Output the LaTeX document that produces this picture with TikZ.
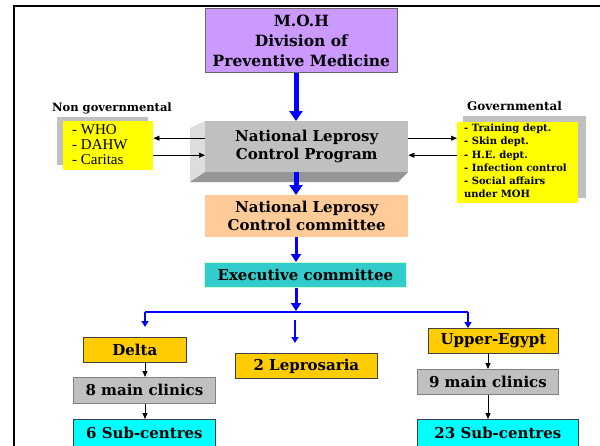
\documentclass[tikz,border=0pt]{standalone}
\usepackage{fontspec}
\setmainfont{DejaVu Serif}
\newfontfamily\timesf{Liberation Serif}
\usetikzlibrary{arrows.meta}
\definecolor{purp}{HTML}{CC99FF}
\definecolor{peach}{HTML}{FFCC99}
\definecolor{teal2}{HTML}{33CCCC}
\definecolor{gold}{HTML}{FFCC00}
\definecolor{silver}{HTML}{C0C0C0}
\definecolor{lsilver}{HTML}{DDDDDD}
\definecolor{dsilver}{HTML}{969696}
\definecolor{yel}{HTML}{FFFF00}
\definecolor{cyn}{HTML}{00FFFF}
\definecolor{blu}{HTML}{0000FF}
\tikzset{
  nw/.style={anchor=north west, inner sep=0pt, align=center,
    font=\bfseries\fontsize{15}{18}\selectfont},
  goldbox/.style={nw, fill=gold, draw=black!75, line width=0.8pt},
  graybox/.style={nw, fill=silver, draw=black!50, line width=0.8pt},
  cyanbox/.style={nw, fill=cyn, draw=black!75, line width=0.8pt},
  bthick/.style={draw=blu, line width=5pt, -{Triangle[length=10pt,width=13pt]}},
  bmid/.style={draw=blu, line width=3pt, -{Triangle[length=8pt,width=10pt]}},
  bthin/.style={draw=blu, line width=1.5pt, -{Triangle[length=6pt,width=7pt]}},
  blk/.style={draw=black, line width=0.8pt, -{Triangle[length=6pt,width=5pt]}},
}
\begin{document}
\begin{tikzpicture}[x=1pt,y=-1pt]
\useasboundingbox (0,0) rectangle (600,445);
\draw[line width=2.5pt] (14,446) -- (14,6) -- (600,6);

% top box
\node[nw, fill=purp, draw=black!60, line width=0.8pt, minimum width=192pt, minimum height=64pt,
  font=\bfseries\fontsize{15.5}{20}\selectfont] (moh) at (205,8) {M.O.H\\Division of\\Preventive Medicine};

% 3D program box
\fill[lsilver] (205,121) -- (190,128) -- (190,182) -- (205,172) -- cycle;
\fill[dsilver] (190,182) -- (205,172) -- (408,172) -- (398,182) -- cycle;
\node[nw, fill=silver, minimum width=203pt, minimum height=51pt] (nlcp) at (205,121) {National Leprosy\\Control Program};

\node[nw, fill=peach, minimum width=203pt, minimum height=42pt] (nlcc) at (205,195) {National Leprosy\\Control committee};
\node[nw, fill=teal2, draw=green!20, line width=0.8pt, minimum width=202pt, minimum height=25pt] (exec) at (204,262) {Executive committee};

% side boxes
\fill[silver] (57,117) rectangle (148,165);
\node[nw, fill=yel, minimum width=90pt, minimum height=49pt] (ngo) at (63,121) {};
\node[anchor=west, inner sep=0pt, align=left, font=\timesf\fontsize{15}{15}\selectfont] (ngolist) at (72,145) {- WHO\\- DAHW\\- Caritas};
\node[anchor=west, inner sep=0pt, font=\bfseries\fontsize{11.5}{13}\selectfont] (ngolab) at (52,108) {Non governmental};

\fill[silver] (463,116) rectangle (586,198);
\node[nw, fill=yel, minimum width=121pt, minimum height=81pt] (gov) at (457,122) {};
\node[anchor=west, inner sep=0pt, align=left, font=\bfseries\fontsize{10}{13.2}\selectfont] (govlist) at (464,161) {- Training dept.\\- Skin dept.\\- H.E. dept.\\- Infection control\\- Social affairs\\under MOH};
\node[anchor=west, inner sep=0pt, font=\bfseries\fontsize{12}{13}\selectfont] (govlab) at (467,106) {Governmental};

% lower boxes
\node[goldbox, minimum width=103pt, minimum height=25pt] (delta) at (83,337) {Delta};
\node[goldbox, minimum width=142pt, minimum height=25pt] (lep) at (235,353) {2 Leprosaria};
\node[goldbox, minimum width=130pt, minimum height=25pt] (upe) at (428,328) {Upper-Egypt};
\node[graybox, minimum width=142pt, minimum height=26pt] (main8) at (73,377) {8 main clinics};
\node[graybox, minimum width=141pt, minimum height=25pt] (main9) at (417,369) {9 main clinics};
\node[cyanbox, minimum width=142pt, minimum height=27pt] (sub6) at (73,419) {6 Sub-centres};
\node[cyanbox, minimum width=161pt, minimum height=27pt] (sub23) at (417,419) {23 Sub-centres};

% side connectors
\coordinate (nl1) at ([yshift=8.5pt]nlcp.west);
\coordinate (nl2) at ([yshift=-8.5pt]nlcp.west);
\coordinate (nr1) at ([yshift=8.5pt]nlcp.east);
\coordinate (nr2) at ([yshift=-8.5pt]nlcp.east);
\draw[blk] (nl1) -- (nl1 -| ngo.east);
\draw[blk] (nl2 -| ngo.east) -- (nl2);
\draw[blk] (nr1) -- (nr1 -| gov.west);
\draw[blk] (nr2 -| gov.west) -- (nr2);

% trunk
\coordinate (tx) at (296,0);
\coordinate (bl) at (145,312);
\coordinate (br) at (468,312);
\coordinate (mx) at (295,320);
\draw[bthick] (moh.south -| tx) -- (nlcp.north -| tx);
\draw[bthick] (nlcp.south -| tx) -- (nlcc.north -| tx);
\draw[bmid] (nlcc.south -| tx) -- (exec.north -| tx);
\draw[bmid] (exec.south -| tx) -- ([yshift=1pt]tx |- bl);
\draw[draw=blu, line width=2pt] (bl) -- (br);
\draw[bthin, shorten >=10pt] (bl) -- (bl |- delta.north);
\draw[bthin] (br) -- (br |- upe.north);
\draw[bthin, shorten >=10pt] (mx) -- (mx |- lep.north);

% black connectors
\coordinate (lx) at (145,0);
\coordinate (rx) at (488,0);
\draw[blk] (delta.south -| lx) -- (main8.north -| lx);
\draw[blk] (main8.south -| lx) -- (sub6.north -| lx);
\draw[blk] (upe.south -| rx) -- (main9.north -| rx);
\draw[blk] (main9.south -| rx) -- (sub23.north -| rx);
\end{tikzpicture}
\end{document}
